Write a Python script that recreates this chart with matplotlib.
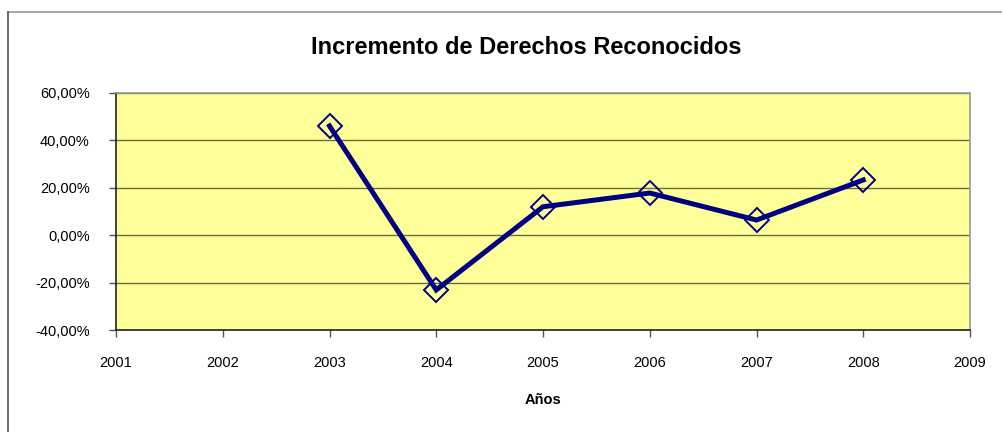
import matplotlib
matplotlib.use("Agg")
import matplotlib.pyplot as plt
from matplotlib.ticker import FuncFormatter, MultipleLocator
from matplotlib.lines import Line2D

years = [2003, 2004, 2005, 2006, 2007, 2008]
increments = [46.1, -23.1, 12.0, 17.8, 6.4, 23.3]  # percent
title = "Incremento de Derechos Reconocidos"
xlabel = "Años"

plt.rcParams['font.family'] = ['Liberation Sans', 'DejaVu Sans']

fig = plt.figure(figsize=(10.03, 4.32), dpi=100)
ax = fig.add_axes([116/1003, 1 - 330/432, (970-116)/1003, (330-93)/432])
ax.set_facecolor('#FFFF99')

ax.plot(years, increments, color='#000080', lw=3.6, marker='D', markersize=12.5,
        markerfacecolor='none', markeredgecolor='#000080', markeredgewidth=1.4,
        solid_joinstyle='miter', zorder=3)

ax.set_xlim(2001, 2009)
ax.set_ylim(-40, 60)
ax.xaxis.set_major_locator(MultipleLocator(1))
ax.yaxis.set_major_locator(MultipleLocator(20))
ax.yaxis.set_major_formatter(FuncFormatter(lambda v, p: f"{v:.2f}%".replace('.', ',')))
ax.xaxis.set_major_formatter(FuncFormatter(lambda v, p: f"{int(round(v))}"))
ax.grid(axis='y', color='#6b6b45', lw=1.0)
ax.set_axisbelow(True)

for s in ['top', 'right']:
    ax.spines[s].set_color('#9a9a9a')
    ax.spines[s].set_linewidth(1.2)
for s in ['left', 'bottom']:
    ax.spines[s].set_color('#222222')
    ax.spines[s].set_linewidth(1.2)

ax.tick_params(axis='both', direction='out', length=5, width=1, color='#555555',
               labelsize=10.5, labelcolor='black')
ax.tick_params(axis='y', pad=14)
ax.tick_params(axis='x', pad=14)

fig.text(526/1003, 1 - 47/432, title, ha='center', va='center', fontsize=17,
         fontweight='bold')
fig.text(543/1003, 1 - 400/432, xlabel, ha='center', va='center', fontsize=10.5,
         fontweight='bold')

# chart area border (top and left visible)
fig.add_artist(Line2D([8/1003, 1], [1 - 12/432, 1 - 12/432], color='#a8a8a8', lw=1.5,
                      transform=fig.transFigure))
fig.add_artist(Line2D([8/1003, 8/1003], [1 - 12/432, 0], color='#555555', lw=1.2,
                      transform=fig.transFigure))

fig.savefig("out.png", dpi=100)
